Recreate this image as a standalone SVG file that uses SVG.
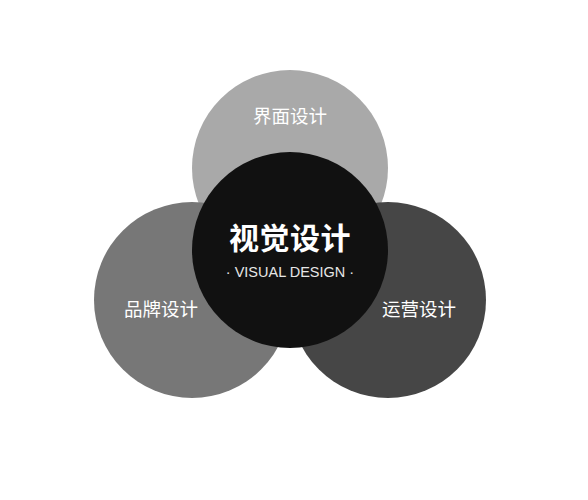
<svg xmlns="http://www.w3.org/2000/svg" width="588" height="500" viewBox="0 0 588 500">
<style>
.lbl{font-family:"Noto Sans CJK SC","Noto Sans",sans-serif;fill:#ffffff;text-anchor:middle}
.sm{font-size:18.5px}
.big{font-size:30px;font-weight:bold;letter-spacing:0.5px}
.en{font-family:"Liberation Sans",Arial,sans-serif;font-size:14.5px;fill:#e6e6e6;text-anchor:middle}
</style>
<rect width="588" height="500" fill="#ffffff"/>
<g id="top">
<circle cx="290" cy="168" r="98" fill="#a9a9a9"/>
<text class="lbl sm" x="290" y="123">界面设计</text>
</g>
<g id="left">
<circle cx="192" cy="300" r="98" fill="#777777"/>
<text class="lbl sm" x="161" y="316">品牌设计</text>
</g>
<g id="right">
<circle cx="388" cy="300" r="98" fill="#464646"/>
<text class="lbl sm" x="419" y="316">运营设计</text>
</g>
<g id="center">
<circle cx="290" cy="250" r="98" fill="#111111"/>
<text class="lbl big" x="290" y="249">视觉设计</text>
<text class="en" x="290" y="277">· VISUAL DESIGN ·</text>
</g>
<g id="connectors"></g>
</svg>
